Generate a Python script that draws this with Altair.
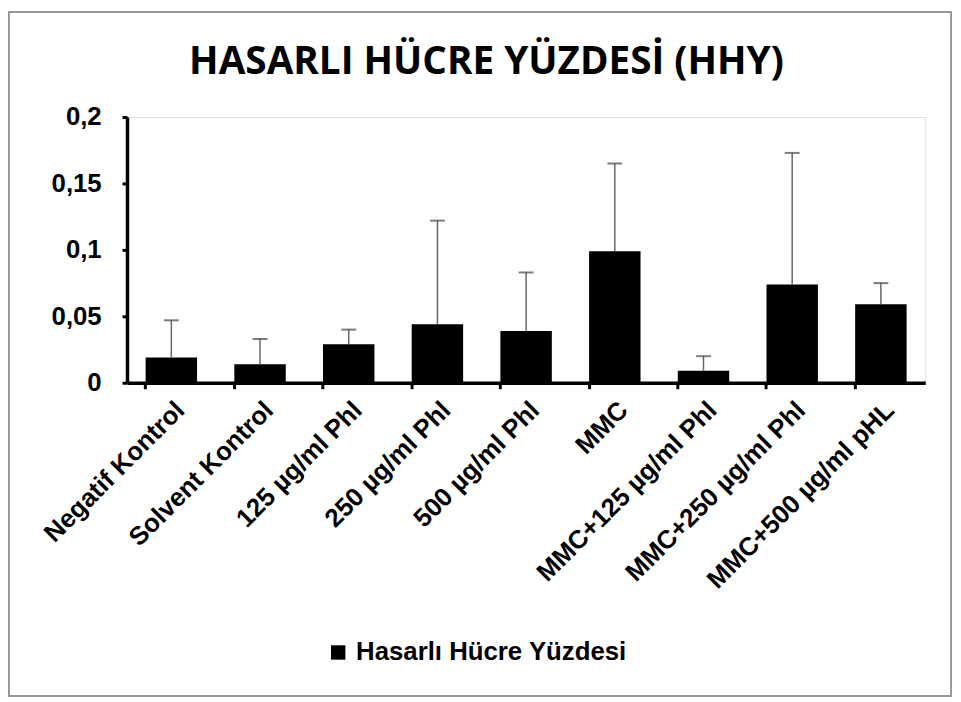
import altair as alt
import pandas as pd

categories = ["Negatif Kontrol", "Solvent Kontrol", "125 µg/ml Phl", "250 µg/ml Phl",
              "500 µg/ml Phl", "MMC", "MMC+125 µg/ml Phl", "MMC+250 µg/ml Phl",
              "MMC+500 µg/ml pHL"]
values = [0.019, 0.014, 0.029, 0.044, 0.039, 0.099, 0.009, 0.074, 0.059]
err_top = [0.047, 0.033, 0.040, 0.122, 0.083, 0.165, 0.020, 0.173, 0.075]
series_name = "Hasarlı Hücre Yüzdesi"
y_ticks = [0, 0.05, 0.1, 0.15, 0.2]

df = pd.DataFrame({"cat": categories, "val": values, "top": err_top,
                   "series": [series_name] * len(categories)})

W, H = 805, 268
FONT = "Liberation Sans"

x = alt.X("cat:N", sort=categories, title=None,
          scale=alt.Scale(paddingInner=0.42, paddingOuter=0.21),
          axis=alt.Axis(labelAngle=-45, labelFont=FONT, labelFontSize=26,
                        labelFontWeight="bold", labelColor="black",
                        domainColor="black", domainWidth=3.5,
                        tickColor="black", tickWidth=3, tickSize=6,
                        bandPosition=0, labelPadding=8, labelLimit=400))
y_scale = alt.Scale(domain=[0, 0.2], nice=False)
y = alt.Y("val:Q", title=None, scale=y_scale,
          axis=alt.Axis(values=y_ticks, format=".2~f",
                        labelExpr="replace(datum.label, '.', ',')",
                        labelFont=FONT, labelFontSize=26, labelFontWeight="bold",
                        labelColor="black", domainColor="black", domainWidth=3.5,
                        tickColor="black", tickWidth=3, tickSize=5,
                        labelPadding=21, grid=False))

base = alt.Chart(df)

bars = base.mark_bar(color="black").encode(
    x=x, y=y,
    color=alt.Color("series:N", scale=alt.Scale(range=["black"]),
                    legend=alt.Legend(title=None, orient="none", legendX=200,
                                      legendY=527, symbolType="square",
                                      symbolSize=210, symbolStrokeWidth=0,
                                      labelFont=FONT, labelFontSize=26,
                                      labelFontWeight="bold", labelColor="black",
                                      padding=0, labelOffset=5, labelLimit=500))
)

rules = base.mark_rule(color="#666666", strokeWidth=1.5).encode(
    x=alt.X("cat:N", sort=categories), y=alt.Y("val:Q", scale=y_scale), y2="top:Q"
)
caps = base.mark_tick(orient="horizontal", size=15, thickness=2, color="#444444").encode(
    x=alt.X("cat:N", sort=categories), y=alt.Y("top:Q", scale=y_scale)
)

frame = alt.Chart(pd.DataFrame({"f": [0]})).mark_rect(
    fill=None, stroke="#999999", strokeWidth=2
).encode(x=alt.value(-119), x2=alt.value(831), y=alt.value(-106), y2=alt.value(584))

chart = alt.layer(frame, bars, rules, caps).properties(
    width=W, height=H,
    title=alt.TitleParams("HASARLI HÜCRE YÜZDESİ (HHY)", font="Open Sans",
                          fontSize=39, fontWeight="bold", color="black",
                          anchor="middle", dx=-40, offset=-72, frame="group"),
    autosize=alt.AutoSizeParams(type="none"),
    padding={"left": 120, "top": 107, "right": 28, "bottom": 317},
).configure_view(stroke=None).configure(background="white")

chart.save("out.html", embed_options={"renderer": "svg", "actions": False})
